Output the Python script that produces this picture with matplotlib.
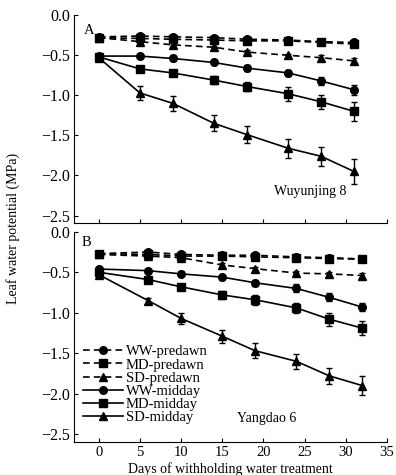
import matplotlib
matplotlib.use('Agg')
import matplotlib.pyplot as plt

plt.rcParams['font.family'] = ['Liberation Serif', 'DejaVu Serif']
plt.rcParams['font.size'] = 10

# Sampling days
days_a = [0, 5, 9, 14, 18, 23, 27, 31]
days_b = [0, 6, 10, 15, 19, 24, 28, 32]

# Panel A: Wuyunjing 8
a_ww_pre = [-0.27, -0.26, -0.27, -0.28, -0.30, -0.31, -0.33, -0.34]
a_md_pre = [-0.28, -0.29, -0.30, -0.31, -0.32, -0.32, -0.34, -0.36]
a_sd_pre = [-0.28, -0.33, -0.37, -0.40, -0.46, -0.50, -0.53, -0.57]
a_ww_mid = [-0.51, -0.51, -0.54, -0.59, -0.66, -0.72, -0.82, -0.93]
a_md_mid = [-0.52, -0.67, -0.72, -0.81, -0.89, -0.98, -1.08, -1.20]
a_sd_mid = [-0.53, -0.97, -1.10, -1.35, -1.49, -1.66, -1.76, -1.95]
a_ww_mid_err = [0.02, 0.02, 0.03, 0.03, 0.04, 0.04, 0.05, 0.06]
a_md_mid_err = [0.02, 0.04, 0.04, 0.05, 0.06, 0.09, 0.09, 0.12]
a_sd_mid_err = [0.02, 0.09, 0.09, 0.10, 0.11, 0.12, 0.12, 0.15]
a_pre_err = [0.01, 0.02, 0.02, 0.02, 0.02, 0.02, 0.03, 0.03]

# Panel B: Yangdao 6
b_ww_pre = [-0.27, -0.25, -0.28, -0.29, -0.29, -0.31, -0.32, -0.335]
b_md_pre = [-0.27, -0.28, -0.30, -0.30, -0.31, -0.32, -0.33, -0.34]
b_sd_pre = [-0.28, -0.30, -0.32, -0.41, -0.455, -0.51, -0.52, -0.54]
b_ww_mid = [-0.46, -0.48, -0.52, -0.56, -0.63, -0.70, -0.81, -0.93]
b_md_mid = [-0.50, -0.59, -0.68, -0.78, -0.84, -0.94, -1.08, -1.19]
b_sd_mid = [-0.53, -0.85, -1.07, -1.29, -1.47, -1.60, -1.78, -1.90]
b_ww_mid_err = [0.02, 0.02, 0.03, 0.03, 0.04, 0.05, 0.05, 0.05]
b_md_mid_err = [0.02, 0.03, 0.04, 0.05, 0.06, 0.06, 0.08, 0.09]
b_sd_mid_err = [0.02, 0.03, 0.07, 0.08, 0.09, 0.09, 0.10, 0.12]
b_pre_err = [0.01, 0.02, 0.02, 0.02, 0.02, 0.02, 0.02, 0.03]

labels = ['WW-predawn', 'MD-predawn', 'SD-predawn',
          'WW-midday', 'MD-midday', 'SD-midday']

fig = plt.figure(figsize=(3.96, 4.75), dpi=100)
ax_a = fig.add_axes([0.187, 0.531, 0.79, 0.437])
ax_b = fig.add_axes([0.187, 0.069, 0.79, 0.443])


def draw_panel(ax, days, series, errs):
    markers = ['o', 's', '^', 'o', 's', '^']
    styles = ['--', '--', '--', '-', '-', '-']
    for vals, err, m, ls, lab in zip(series, errs, markers, styles, labels):
        ax.errorbar(days, vals, yerr=err, fmt='none', ecolor='black',
                    elinewidth=1.0, capsize=2.5, capthick=1.0)
        line, = ax.plot(days, vals, color='black', marker=m, markersize=5.5,
                        linestyle=ls, linewidth=1.2, label=lab)
        if ls == '--':
            line.set_dashes((4, 2.5))
    ax.set_xlim(-3, 35)
    ax.set_yticks([0.0, -0.5, -1.0, -1.5, -2.0, -2.5])
    ax.set_yticklabels(['0.0', '\u22120.5', '\u22121.0', '\u22121.5',
                        '\u22122.0', '\u22122.5'])
    ax.set_xticks([0, 5, 10, 15, 20, 25, 30, 35])
    ax.tick_params(direction='in', length=3, width=0.8, labelsize=10.5, pad=3)
    ax.tick_params(axis='y', labelsize=11.5)
    ax.spines['top'].set_visible(False)
    ax.spines['right'].set_visible(False)


draw_panel(ax_a, days_a,
           [a_ww_pre, a_md_pre, a_sd_pre, a_ww_mid, a_md_mid, a_sd_mid],
           [a_pre_err, a_pre_err, a_pre_err, a_ww_mid_err, a_md_mid_err, a_sd_mid_err])
ax_a.set_ylim(-2.59, 0.0)
ax_a.set_xticklabels([])
ax_a.text(0.03, 0.96, 'A', transform=ax_a.transAxes, fontsize=10.5, va='top')
ax_a.text(0.64, 0.135, 'Wuyunjing 8', transform=ax_a.transAxes, fontsize=10)

draw_panel(ax_b, days_b,
           [b_ww_pre, b_md_pre, b_sd_pre, b_ww_mid, b_md_mid, b_sd_mid],
           [b_pre_err, b_pre_err, b_pre_err, b_ww_mid_err, b_md_mid_err, b_sd_mid_err])
ax_b.set_ylim(-2.6, 0.0)
ax_b.text(0.025, 0.98, 'B', transform=ax_b.transAxes, fontsize=10.5, va='top')
ax_b.text(0.52, 0.095, 'Yangdao 6', transform=ax_b.transAxes, fontsize=10)
ax_b.set_xlabel('Days of withholding water treatment', fontsize=10, labelpad=2)

handles, labs = ax_b.get_legend_handles_labels()
ax_b.legend(handles, labs, loc='lower left', bbox_to_anchor=(0.03, 0.085),
            frameon=False, fontsize=10.5, handlelength=2.7, handletextpad=0.2,
            labelspacing=0.0, borderaxespad=0, borderpad=0)

fig.text(0.033, 0.52, 'Leaf water potential (MPa)', rotation=90,
         ha='center', va='center', fontsize=10)

fig.savefig('out.png', dpi=100)
